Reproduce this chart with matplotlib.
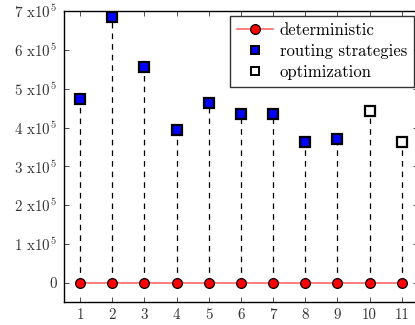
import numpy as np
import matplotlib
matplotlib.use("Agg")
import matplotlib.pyplot as plt
from matplotlib.lines import Line2D

plt.rcParams['font.family'] = ['cmr10', 'DejaVu Serif']
plt.rcParams['mathtext.fontset'] = 'cm'
plt.rcParams['axes.unicode_minus'] = False

# data
scenarios = [1, 2, 3, 4, 5, 6, 7, 8, 9, 10, 11]
deterministic = [0, 0, 0, 0, 0, 0, 0, 0, 0, 0, 0]
routing_x = [1, 2, 3, 4, 5, 6, 7, 8, 9]
routing = [4.74e5, 6.84e5, 5.57e5, 3.95e5, 4.62e5, 4.36e5, 4.36e5, 3.64e5, 3.71e5]
optim_x = [10, 11]
optim = [4.42e5, 3.62e5]
ytick_vals = [0, 1e5, 2e5, 3e5, 4e5, 5e5, 6e5, 7e5]
ytick_labels = ["0"] + ["%d x10$^5$" % k for k in range(1, 8)]

fig = plt.figure(figsize=(4.15, 3.25), dpi=100)
# right spine sits just past the image edge, as in the reference
ax = fig.add_axes([0.154, 0.072, 0.853, 0.894])

# dashed drop lines from each marker to zero
allx = routing_x + optim_x
ally = routing + optim
for x, y in zip(allx, ally):
    ax.plot([x, x], [0, y], color='black', linestyle=(0, (4.5, 4)), linewidth=0.9, zorder=1)

ax.plot(scenarios, deterministic, color='#ff5a5a', linewidth=1.1, marker='o',
        markersize=7, markerfacecolor='red', markeredgecolor='black',
        markeredgewidth=0.9, zorder=3)
ax.plot(routing_x, routing, linestyle='none', marker='s', markersize=7.5,
        markerfacecolor='blue', markeredgecolor='black', markeredgewidth=1.6,
        zorder=3)
ax.plot(optim_x, optim, linestyle='none', marker='s', markersize=7.5,
        markerfacecolor='white', markeredgecolor='black', markeredgewidth=1.6,
        zorder=3)

ax.set_xlim(0.5, 11.5)
ax.set_ylim(-0.48e5, 7e5)
ax.set_xticks(scenarios)
ax.set_xticklabels([str(s) for s in scenarios])
ax.set_yticks(ytick_vals)
ax.set_yticklabels(ytick_labels)
ax.tick_params(direction='in', top=True, right=True, length=3.5, width=0.6,
               labelsize=10.8, pad=5, colors='#333333')
for s in ax.spines.values():
    s.set_linewidth(1.0)

# legend handles (smaller markers than on the plot)
handles = [
    Line2D([], [], color='#ff5a5a', linewidth=1.1, marker='o', markersize=7,
           markerfacecolor='red', markeredgecolor='black', markeredgewidth=0.9),
    Line2D([], [], linestyle='none', marker='s', markersize=5.2,
           markerfacecolor='blue', markeredgecolor='black', markeredgewidth=1.4),
    Line2D([], [], linestyle='none', marker='s', markersize=5.2,
           markerfacecolor='white', markeredgecolor='black', markeredgewidth=1.4),
]
labels = ['deterministic', 'routing strategies', 'optimization']
leg = ax.legend(handles, labels, loc='upper right', fontsize=12, frameon=True,
                fancybox=False, bbox_to_anchor=(414 / 415, 1 - 16 / 325),
                bbox_transform=fig.transFigure, borderaxespad=0,
                handlelength=2.2, handletextpad=0.4, labelspacing=0.35,
                borderpad=0.4)
leg.get_frame().set_edgecolor('black')
leg.get_frame().set_linewidth(1.0)

fig.savefig("out.png", dpi=100)
